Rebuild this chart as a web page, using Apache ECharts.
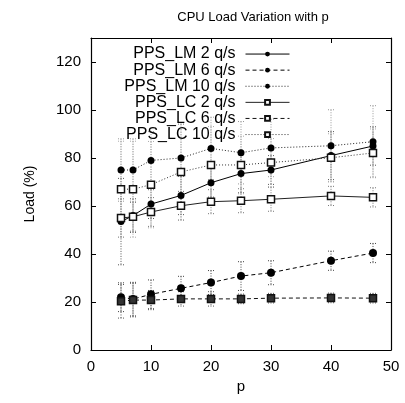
<!DOCTYPE html>
<html><head><meta charset="utf-8">
<script src="https://cdn.jsdelivr.net/npm/echarts@6/dist/echarts.min.js"></script>
<style>html,body{margin:0;padding:0;background:#fff}#c{width:405px;height:403px}</style>
</head><body><div id="c"></div>
<script>
const p = [5, 7, 10, 15, 20, 25, 30, 40, 47];
const lm2 = [53.5, 56, 60.8, 64.4, 69.7, 73.5, 75, 81, 85];
const lm6 = [22, 21.2, 23.2, 25.7, 28.1, 30.8, 32.2, 37.2, 40.4];
const lm10 = [75, 75, 79, 80, 84, 82.2, 84.2, 85.1, 86.8];
const lc2 = [55, 55.5, 57.5, 60.1, 61.8, 62.2, 62.8, 64.2, 63.6];
const lc6 = [20.3, 20.8, 20.8, 21.3, 21.3, 21.3, 21.6, 21.7, 21.6];
const lc10 = [67, 67, 68.9, 74.2, 77.1, 77.1, 78.1, 80.1, 82.1];
const lm2Err = [18, 7, 6, 8, 6, 8, 6, 10, 8];
const lm6Err = [6, 7, 6, 5, 5, 6, 5, 4, 4];
const lm10Err = [13, 13, 12, 14, 13, 13, 12, 15, 15];
const lc2Err = [8, 6, 6, 6, 5, 5, 5, 4, 4];
const lc6Err = [7, 7, 4, 3, 3, 2, 2, 2, 2];
const lc10Err = [20, 20, 18, 20, 16, 12, 10, 10, 10];
const names = ['PPS_LM 2 q/s', 'PPS_LM 6 q/s', 'PPS_LM 10 q/s', 'PPS_LC 2 q/s', 'PPS_LC 6 q/s', 'PPS_LC 10 q/s'];
const xTicks = [0, 10, 20, 30, 40, 50];
const yTicks = [0, 20, 40, 60, 80, 100, 120];

const vals = [lm2, lm6, lm10, lc2, lc6, lc10];
const errs = [lm2Err, lm6Err, lm10Err, lc2Err, lc6Err, lc10Err];
const dashes = ['solid', [4, 3], [1, 2], 'solid', [4, 3], [1, 2]];
const lineColors = ['#000', '#000', '#222', '#222', '#111', '#333'];
const errColors = ['#555', '#444', '#999', '#777', '#555', '#aaa'];

const chart = echarts.init(document.getElementById('c'), null, {renderer: 'canvas'});
const series = [];
vals.forEach((v, i) => {
  const data = p.map((x, j) => [x, v[j], errs[i][j]]);
  series.push({
    type: 'custom', silent: true, z: 1,
    data: data,
    renderItem: (params, api) => {
      const x = api.value(0), y = api.value(1), e = api.value(2);
      const top = api.coord([x, y + e]);
      const bot = api.coord([x, y - e]);
      const style = {stroke: errColors[i], lineWidth: 1, lineDash: [1, 1.5]};
      return {type: 'group', children: [
        {type: 'line', shape: {x1: top[0], y1: top[1], x2: bot[0], y2: bot[1]}, style: style},
        {type: 'line', shape: {x1: top[0] - 3, y1: top[1], x2: top[0] + 3, y2: top[1]}, style: style},
        {type: 'line', shape: {x1: bot[0] - 3, y1: bot[1], x2: bot[0] + 3, y2: bot[1]}, style: style}
      ]};
    },
    encode: {x: 0, y: 1}
  });
});
const markerFill = ['#000', '#000', '#000', '#fff', '#333', '#fff'];
vals.forEach((v, i) => {
  const isLM = i < 3;
  series.push({
    name: names[i], type: 'line', z: 3,
    data: p.map((x, j) => [x, v[j]]),
    symbol: isLM ? 'circle' : 'rect',
    symbolSize: isLM ? (i === 1 ? 8 : 7) : 7,
    showAllSymbol: true,
    lineStyle: {color: lineColors[i], width: 1, type: dashes[i]},
    itemStyle: isLM ? {color: '#000', borderColor: '#000', borderWidth: 0}
                    : {color: markerFill[i], borderColor: '#111', borderWidth: 1.5},
    emphasis: {disabled: true},
    animation: false
  });
});

const axisCommon = {
  axisLine: {show: true, onZero: false, lineStyle: {color: '#000', width: 1.2}},
  axisTick: {show: true, inside: true, length: 5, lineStyle: {color: '#000'}},
  splitLine: {show: false}
};
chart.setOption({
  animation: false,
  backgroundColor: '#fff',
  title: {text: 'CPU Load Variation with p', left: 248, top: 6, textAlign: 'center',
    textStyle: {fontFamily: 'Liberation Sans', fontSize: 13, fontWeight: 'normal', color: '#000'}},
  legend: {
    data: names.map(n => ({name: n, itemStyle: n.indexOf('LC 6') >= 0 ? {color: '#fff'} : undefined})),
    orient: 'vertical', align: 'right', right: 110, top: 41,
    itemWidth: 44, itemHeight: 6, itemGap: 0,
    lineStyle: {width: 1},
    textStyle: {fontFamily: 'Liberation Sans', fontSize: 16, color: '#000', lineHeight: 16.1, padding: [0, 5, 0, 0]},
    selectedMode: false
  },
  grid: {left: 91, right: 14, top: 38, bottom: 53, containLabel: false},
  xAxis: [
    Object.assign({type: 'value', min: 0, max: 50, interval: 10, position: 'bottom',
      name: 'p', nameLocation: 'middle', nameGap: 26,
      nameTextStyle: {fontFamily: 'Liberation Sans', fontSize: 15, color: '#000'},
      axisLabel: {fontFamily: 'Liberation Sans', fontSize: 15, color: '#000', margin: 9,
        formatter: v => xTicks.includes(v) ? String(v) : ''}}, axisCommon),
    Object.assign({type: 'value', min: 0, max: 50, interval: 10, position: 'top',
      axisLabel: {show: false}}, axisCommon)
  ],
  yAxis: [
    Object.assign({type: 'value', min: 0, max: 130, interval: 20, position: 'left',
      name: 'Load (%)', nameLocation: 'middle', nameGap: 54, nameRotate: 90,
      nameTextStyle: {fontFamily: 'Liberation Sans', fontSize: 14, color: '#000'},
      axisLabel: {fontFamily: 'Liberation Sans', fontSize: 15, color: '#000', margin: 10,
        formatter: v => yTicks.includes(v) ? String(v) : ''}}, axisCommon),
    Object.assign({type: 'value', min: 0, max: 130, interval: 20, position: 'right',
      axisLabel: {show: false}}, axisCommon)
  ],
  series: series
});
</script></body></html>
